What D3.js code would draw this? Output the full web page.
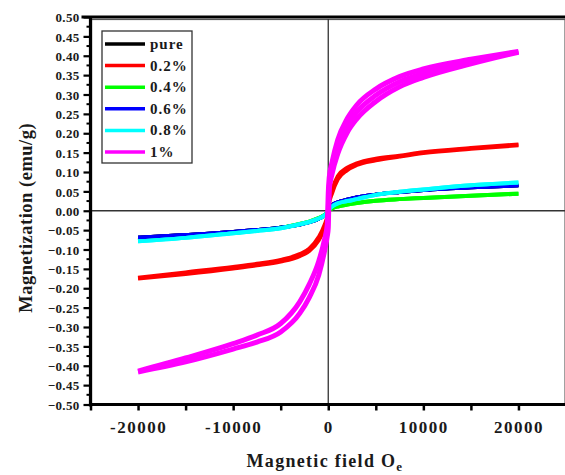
<!DOCTYPE html>
<html>
<head>
<meta charset="utf-8">
<script src="https://cdn.jsdelivr.net/npm/d3@7/dist/d3.min.js"></script>
<style>
  html, body { margin: 0; padding: 0; background: #fff; }
  svg { display: block; }
  text { font-family: "Liberation Serif", "Times New Roman", serif; font-weight: bold; fill: #1a1a1a; }
</style>
</head>
<body>
<svg id="chart" width="565" height="475"></svg>
<script>
// ---- Data ----
const seriesNames = ["pure", "0.2%", "0.4%", "0.6%", "0.8%", "1%"];
const seriesColors = ["#000000", "#ff0000", "#00ff00", "#0000ff", "#00ffff", "#ff00ff"];

// Magnetic field grid (Oe)
const field = [-20000, -15000, -10000, -7500, -5000, -3000, -2000, -1000, -400, -100, 0,
               100, 400, 1000, 2000, 3000, 5000, 7500, 10000, 15000, 20000];
// Field grid of the initial (virgin) curve
const fieldVirgin = [0, 100, 400, 1000, 2000, 3000, 5000, 7500, 10000, 15000, 20000];

// Magnetization (emu/g) — descending (upper) and ascending (lower) branches
const pureUpper   = [-0.069, -0.062, -0.054, -0.049, -0.043, -0.036, -0.030, -0.021, -0.013, -0.005, 0.0,
                     0.006, 0.015, 0.022, 0.029, 0.035, 0.042, 0.048, 0.053, 0.060, 0.065];
const pureLower   = pureUpper;

const red02Upper  = [-0.173, -0.159, -0.145, -0.137, -0.127, -0.112, -0.098, -0.068, -0.037, -0.014, 0.010,
                     0.031, 0.055, 0.089, 0.111, 0.122, 0.134, 0.142, 0.151, 0.162, 0.171];
const red02Lower  = [-0.175, -0.163, -0.149, -0.141, -0.131, -0.117, -0.104, -0.076, -0.047, -0.026, -0.010,
                     0.019, 0.045, 0.081, 0.105, 0.118, 0.130, 0.140, 0.149, 0.160, 0.169];

const green04Upper = [-0.077, -0.068, -0.057, -0.051, -0.044, -0.034, -0.028, -0.019, -0.011, -0.004, 0.0,
                      0.002, 0.006, 0.011, 0.016, 0.020, 0.026, 0.030, 0.033, 0.039, 0.044];
const green04Lower = green04Upper;

const blue06Upper = [-0.069, -0.062, -0.054, -0.049, -0.043, -0.036, -0.030, -0.021, -0.013, -0.005, 0.0,
                     0.006, 0.015, 0.022, 0.029, 0.035, 0.042, 0.048, 0.053, 0.060, 0.065];
const blue06Lower = blue06Upper;

const cyan08Upper = [-0.079, -0.070, -0.058, -0.052, -0.045, -0.035, -0.029, -0.020, -0.012, -0.004, 0.0,
                     0.004, 0.011, 0.019, 0.025, 0.030, 0.041, 0.049, 0.055, 0.066, 0.073];
const cyan08Lower = cyan08Upper;

const mag1Upper   = [-0.414, -0.380, -0.343, -0.321, -0.291, -0.235, -0.190, -0.130, -0.075, -0.035, 0.045,
                     0.085, 0.125, 0.183, 0.238, 0.273, 0.314, 0.346, 0.366, 0.391, 0.411];
const mag1Lower   = [-0.416, -0.390, -0.357, -0.339, -0.313, -0.265, -0.224, -0.166, -0.105, -0.065, -0.045,
                     0.055, 0.095, 0.147, 0.202, 0.237, 0.282, 0.320, 0.344, 0.379, 0.409];
const mag1Virgin  = [0.0, 0.060, 0.110, 0.165, 0.220, 0.255, 0.298, 0.333, 0.355, 0.385, 0.410];

const xTickValues = [-25000, -20000, -15000, -10000, -5000, 0, 5000, 10000, 15000, 20000, 25000];
const xTickLabels = ["-20000", "-10000", "0", "10000", "20000"];
const yTickValues = d3.range(-10, 11).map(i => i * 0.05);

// ---- Layout ----
const svg = d3.select("#chart");
const x = d3.scaleLinear().domain([-25000, 25000]).range([90.5, 566]);
const y = d3.scaleLinear().domain([-0.5, 0.5]).range([404.5, 17]);

// gray plot frame
svg.append("rect")
  .attr("x", x(-25000) + 1).attr("y", y(0.5) + 2.5)
  .attr("width", x(24900) - x(-25000) - 1).attr("height", y(-0.5) - y(0.5) - 2.5)
  .attr("fill", "none").attr("stroke", "#555").attr("stroke-width", 1.2);

// zero lines
svg.append("line").attr("x1", x(0)).attr("x2", x(0)).attr("y1", y(0.5) + 2).attr("y2", y(-0.5))
  .attr("stroke", "#333").attr("stroke-width", 1.3);
svg.append("line").attr("x1", x(-25000)).attr("x2", x(24900)).attr("y1", y(0)).attr("y2", y(0))
  .attr("stroke", "#333").attr("stroke-width", 1.3);

// series
const series = [
  { color: seriesColors[0], curves: [[field, pureUpper], [field, pureLower]], w: 3.5 },
  { color: seriesColors[2], curves: [[field, green04Upper], [field, green04Lower]], w: 4 },
  { color: seriesColors[3], curves: [[field, blue06Upper], [field, blue06Lower]], w: 3.5 },
  { color: seriesColors[4], curves: [[field, cyan08Upper], [field, cyan08Lower]], w: 4 },
  { color: seriesColors[1], curves: [[field, red02Upper], [field, red02Lower]], w: 4 },
  { color: seriesColors[5], curves: [[field, mag1Upper], [field, mag1Lower], [fieldVirgin, mag1Virgin]], w: 5 }
];
const line = d3.line().x(d => x(d[0])).y(d => y(d[1])).curve(d3.curveMonotoneX);
const plot = svg.append("g");
series.forEach(s => {
  s.curves.forEach(([fs, vals]) => {
    plot.append("path")
      .datum(fs.map((f, i) => [f, vals[i]]))
      .attr("d", line)
      .attr("fill", "none")
      .attr("stroke", s.color)
      .attr("stroke-width", s.w)
      .attr("stroke-linejoin", "round");
  });
});

// axes
const yAxis = d3.axisLeft(y).tickValues(yTickValues).tickSize(7).tickPadding(4)
  .tickFormat(d3.format(".2f"));
const yg = svg.append("g").attr("transform", `translate(${x(-25000)},0)`).call(yAxis);
yg.select(".domain").remove();
yg.selectAll(".tick line").attr("stroke", "#000").attr("stroke-width", 2.2);
yg.selectAll(".tick text").style("font-size", "13px").style("letter-spacing", "0.3px")
  .attr("fill", "#1a1a1a").attr("dy", "0.36em");
// minor y ticks
const yMinor = d3.range(-10, 10).map(i => i * 0.05 + 0.025);
svg.append("g").selectAll("line").data(yMinor).join("line")
  .attr("x1", x(-25000) - 4).attr("x2", x(-25000)).attr("y1", d => y(d)).attr("y2", d => y(d))
  .attr("stroke", "#000").attr("stroke-width", 2);

const xAxis = d3.axisBottom(x).tickValues(xTickValues).tickSize(6).tickPadding(10)
  .tickFormat(d => xTickLabels.includes(String(d)) ? String(d) : "");
const xg = svg.append("g").attr("transform", `translate(0,${y(-0.5)})`).call(xAxis);
xg.select(".domain").remove();
xg.selectAll(".tick line").attr("stroke", "#000").attr("stroke-width", 2.5);
xg.selectAll(".tick text").style("font-size", "17px").style("letter-spacing", "1.5px").attr("fill", "#1a1a1a");

// thick black axis lines
svg.append("line").attr("x1", x(-25000)).attr("x2", x(-25000)).attr("y1", y(0.5) - 1).attr("y2", y(-0.5) + 2)
  .attr("stroke", "#000").attr("stroke-width", 3.2);
svg.append("line").attr("x1", x(-25000) - 1.5).attr("x2", 565).attr("y1", y(-0.5)).attr("y2", y(-0.5))
  .attr("stroke", "#000").attr("stroke-width", 3.2);
svg.append("line").attr("x1", x(-25000) - 9).attr("x2", 565).attr("y1", y(0.5)).attr("y2", y(0.5))
  .attr("stroke", "#000").attr("stroke-width", 3);

// titles
svg.append("text")
  .attr("transform", `translate(32,${(y(0.5) + y(-0.5)) / 2 + 7}) rotate(-90)`)
  .attr("text-anchor", "middle").style("font-size", "18.5px").style("letter-spacing", "0.5px")
  .text("Magnetization (emu/g)");
const xt = svg.append("text").attr("x", 325).attr("y", 467)
  .attr("text-anchor", "middle").style("font-size", "18px").style("letter-spacing", "1.3px");
xt.append("tspan").text("Magnetic field O");
xt.append("tspan").attr("dy", 4).style("font-size", "13px").text("e");

// legend
const legend = svg.append("g");
legend.append("rect").attr("x", 102).attr("y", 31).attr("width", 90).attr("height", 132)
  .attr("fill", "#fff").attr("stroke", "#333").attr("stroke-width", 1.3);
seriesNames.forEach((n, i) => {
  const ly = 44 + i * 21.6;
  legend.append("line").attr("x1", 105).attr("x2", 145).attr("y1", ly).attr("y2", ly)
    .attr("stroke", seriesColors[i]).attr("stroke-width", 3.5);
  legend.append("text").attr("x", 150).attr("y", ly + 5).style("font-size", "15px")
    .style("letter-spacing", "1px").text(n);
});
</script>
</body>
</html>
